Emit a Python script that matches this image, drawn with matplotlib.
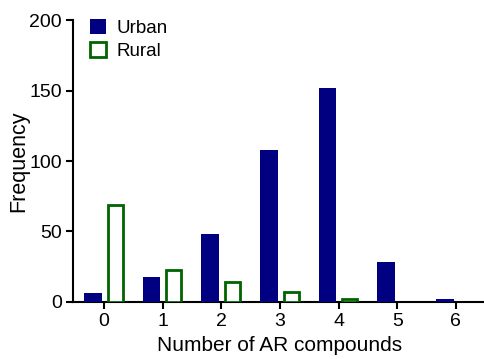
import matplotlib
matplotlib.use("Agg")
import matplotlib.pyplot as plt
import numpy as np

categories = [0, 1, 2, 3, 4, 5, 6]
urban = [6, 18, 48, 108, 152, 28, 2]
rural = [69, 23, 14, 7, 2, 0, 0]

plt.rcParams['font.family'] = ['Liberation Sans', 'DejaVu Sans']

fig = plt.figure(figsize=(4.85, 3.59), dpi=100)
ax = fig.add_axes([0.1505, 0.159, 0.85, 0.785])

x = np.arange(len(categories))
ax.bar(x - 0.19, urban, width=0.3, color='#000080', label='Urban', zorder=3)
r = [v if v > 0 else np.nan for v in rural]
ax.bar(x + 0.19, r, width=0.26, facecolor='white', edgecolor='#006400',
       linewidth=2.0, label='Rural', zorder=3)

ax.set_xlim(-0.53, 6.5)
ax.set_ylim(0, 200)
ax.set_xticks(x)
ax.set_xticklabels([str(c) for c in categories])
ax.set_yticks([0, 50, 100, 150, 200])
for s in ['top', 'right']:
    ax.spines[s].set_visible(False)
for s in ['left', 'bottom']:
    ax.spines[s].set_linewidth(1.5)
ax.tick_params(axis='both', which='major', length=5, width=1.5, labelsize=14,
               direction='out', pad=3)
ax.set_xlabel('Number of AR compounds', fontsize=15, labelpad=4)
ax.set_ylabel('Frequency', fontsize=15.5, labelpad=0)

leg = ax.legend(loc='upper left', bbox_to_anchor=(0.0, 1.065), frameon=False, fontsize=13.5,
                handlelength=0.85, handleheight=0.85, handletextpad=0.55, labelspacing=0.3)

fig.savefig('out.png', dpi=100)
